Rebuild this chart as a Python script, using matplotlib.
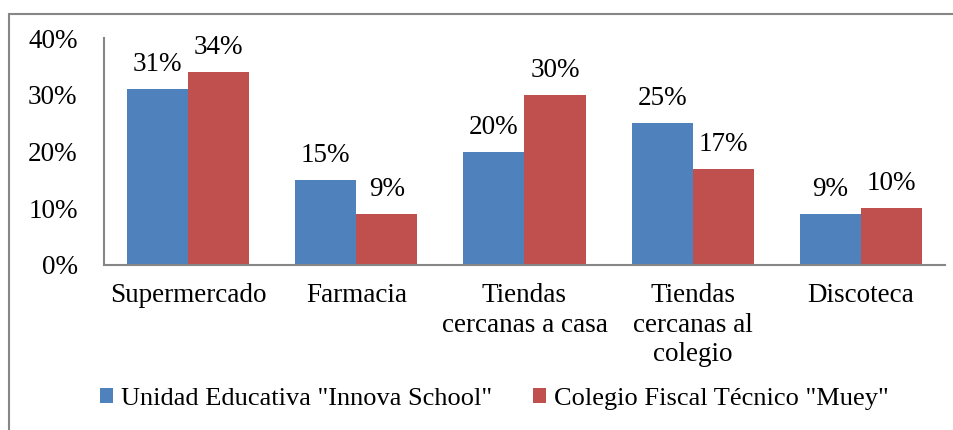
import matplotlib
matplotlib.use("Agg")
import matplotlib.pyplot as plt
import numpy as np
from matplotlib.patches import Rectangle

categories = ["Supermercado", "Farmacia", "Tiendas\ncercanas a casa", "Tiendas\ncercanas al\ncolegio", "Discoteca"]
series_names = ['Unidad Educativa "Innova School"', 'Colegio Fiscal Técnico "Muey"']
innova = [31, 15, 20, 25, 9]
muey = [34, 9, 30, 17, 10]
yticks = [0, 10, 20, 30, 40]

plt.rcParams['font.family'] = ['Liberation Serif', 'DejaVu Serif']

fig = plt.figure(figsize=(9.54, 4.30), dpi=100)
ax = fig.add_axes([104/954, 1-265/430, (945-104)/954, (265-38)/430])

x = np.arange(len(categories))
w = 0.363
blue = '#4f81bd'
red = '#c0504d'
b1 = ax.bar(x - w/2, innova, w, color=blue, label=series_names[0])
b2 = ax.bar(x + w/2, muey, w, color=red, label=series_names[1])

fs = 19.5
for bars, vals in ((b1, innova), (b2, muey)):
    for r, v in zip(bars, vals):
        ax.annotate(f"{v}%", (r.get_x() + r.get_width()/2, v), xytext=(0, 8.5),
                    textcoords='offset points', ha='center', va='bottom', fontsize=fs)

ax.set_xlim(-0.5, len(categories) - 0.5)
ax.set_ylim(0, 40)
ax.set_yticks(yticks)
ax.set_yticklabels([f"{t}%" for t in yticks], fontsize=fs)
ax.set_xticks(x)
ax.set_xticklabels(categories, fontsize=fs, linespacing=1.24, va='top')
ax.tick_params(axis='both', length=0)
ax.tick_params(axis='y', pad=19)
ax.tick_params(axis='x', pad=13)
for s in ['top', 'right']:
    ax.spines[s].set_visible(False)
for s in ['left', 'bottom']:
    ax.spines[s].set_color('#868686')
    ax.spines[s].set_linewidth(1.5)

leg = fig.legend(handles=[b1, b2], loc='center', bbox_to_anchor=(0.518, 1-399/430),
                 ncol=2, frameon=False, fontsize=19, handlelength=0.5, handleheight=0.5,
                 handletextpad=0.3, columnspacing=1.55)

fig.patches.append(Rectangle((9.5/954, -0.1), 1.1, 1-13.5/430+0.1, transform=fig.transFigure,
                             fill=False, edgecolor='#868686', linewidth=1.5))

fig.savefig("out.png", dpi=100)
